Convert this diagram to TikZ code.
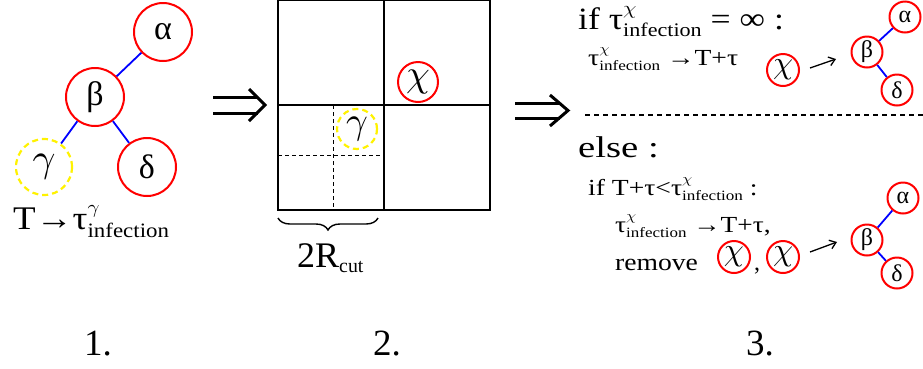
\documentclass[tikz,border=0pt]{standalone}
\usepackage{fontspec}
\setmainfont{Liberation Serif}
\usetikzlibrary{arrows.meta,decorations.pathreplacing}
\newcommand\tinf[1]{τ\rlap{\raisebox{0.48em}{\scalebox{0.62}{#1}}}\raisebox{-0.25em}{\scalebox{0.62}{infection}}}
\newcommand\fs[1]{\fontsize{#1}{#1}\selectfont}
\newcommand\gk[2]{{\fs{10}\scalebox{#1}{$#2$}}}
\begin{document}
\begin{tikzpicture}[x=1pt,y=-1pt,
  bigc/.style={circle,draw=red,line width=2pt,inner sep=0pt,minimum size=58pt,font=\fs{34}},
  yelc/.style={circle,draw=yellow,line width=2.2pt,dash pattern=on 6pt off 4pt,inner sep=0pt,minimum size=#1},
  smc/.style={circle,draw=red,line width=2pt,inner sep=0pt,minimum size=#1},
  edge/.style={draw=blue,line width=1.8pt},
  grid/.style={line width=2.2pt},
  thin dash/.style={line width=1pt,dash pattern=on 4pt off 3pt},
  lbl/.style={inner sep=0pt,anchor=base west},
  dbl/.style={line width=3pt},
  sarrow/.style={line width=1.3pt,-{Straight Barb[length=6pt,width=9pt]}}]
\useasboundingbox (0,0) rectangle (923,368);

% ---- panel 1 ----
\node[bigc] (a1) at (163,32) {α};
\node[bigc] (b1) at (95,97) {β};
\node[yelc=56pt] (g1) at (44,167) {\gk{4.0}{\gamma}};
\node[bigc] (d1) at (147,167) {δ};
\draw[edge] (b1) -- (a1);
\draw[edge] (b1) -- (g1);
\draw[edge] (b1) -- (d1);
\node[lbl,font=\fs{33}] (t1) at (13,229) {\scalebox{1.12}[1]{T→\tinf{\gk{3.0}{\gamma}}}};
\node[lbl,font=\fs{37}] (n1) at (84,355) {1.};

% ---- arrow 1 ----
\draw[dbl] (213,97) -- (258,97) (213,113) -- (258,113);
\draw[dbl,line join=miter] (249,89) -- (265,105) -- (249,121);

% ---- panel 2 ----
\draw[grid] (278,0) rectangle (490,210);
\draw[grid] (384,0) -- (384,210) (278,105) -- (490,105);
\draw[thin dash] (333,105) -- (333,210) (278,155) -- (384,155);
\node[yelc=40pt] (g2) at (357,129) {\gk{3.8}{\gamma}};
\node[smc=40pt] (c2) at (418,82) {\gk{3.8}{\chi}};
\coordinate (br1) at (378,218);
\coordinate (br2) at (278,218);
\draw[line width=1.4pt,decorate,decoration={brace,amplitude=12pt}] (br1) -- (br2);
\node[lbl,font=\fs{36}] (r2) at (297,267) {2R\raisebox{-0.15em}{\scalebox{0.55}{cut}}};
\node[lbl,font=\fs{37}] (n2) at (373,355) {2.};

% ---- arrow 2 ----
\draw[dbl] (515,103) -- (560,103) (515,118) -- (560,118);
\draw[dbl,line join=miter] (550,95) -- (568,110.5) -- (550,126);

% ---- panel 3 ----
\node[lbl,font=\fs{31}] (l1) at (578,29) {\scalebox{1.15}[1]{if \tinf{\gk{3.0}{\chi}} = ∞ :}};
\node[lbl,font=\fs{23}] (l2) at (588,65) {\scalebox{1.2}[1]{\tinf{\gk{2.2}{\chi}} →T+τ}};
\node[smc=32pt] (c3) at (783,70) {\gk{3.2}{\chi}};
\coordinate (ar1s) at (810,68);
\coordinate (ar1e) at (836,59);
\draw[sarrow] (ar1s) -- (ar1e);
\node[smc=31pt,font=\fs{24}] (a3) at (905,17) {α};
\node[smc=31pt,font=\fs{24}] (b3) at (867,52) {β};
\node[smc=31pt,font=\fs{24}] (d3) at (897,90) {δ};
\draw[edge] (b3) -- (a3);
\draw[edge] (b3) -- (d3);

\coordinate (dl1) at (585,115);
\coordinate (dl2) at (923,115);
\draw[line width=2pt,dash pattern=on 5pt off 4pt] (dl1) -- (dl2);

\node[lbl,font=\fs{30}] (l3) at (578,157) {\scalebox{1.29}[1]{else :}};
\node[lbl,font=\fs{23}] (l4) at (588,195) {\scalebox{1.2}[1]{if T+τ<\tinf{\gk{2.2}{\chi}} :}};
\node[lbl,font=\fs{23}] (l5) at (615,232) {\scalebox{1.19}[1]{\tinf{\gk{2.2}{\chi}} →T+τ,}};
\node[lbl,font=\fs{24}] (l6) at (615,270) {\scalebox{1.15}[1]{remove}};
\node[smc=32pt] (c4) at (734,257) {\gk{3.2}{\chi}};
\node[lbl,font=\fs{24}] (cm) at (754,270) {,};
\node[smc=32pt] (c5) at (783,257) {\gk{3.2}{\chi}};
\coordinate (ar2s) at (810,252);
\coordinate (ar2e) at (837,242);
\draw[sarrow] (ar2s) -- (ar2e);
\node[smc=31pt,font=\fs{24}] (a4) at (903,198) {α};
\node[smc=31pt,font=\fs{24}] (b4) at (867,240) {β};
\node[smc=31pt,font=\fs{24}] (d4) at (897,273) {δ};
\draw[edge] (b4) -- (a4);
\draw[edge] (b4) -- (d4);
\node[lbl,font=\fs{37}] (n3) at (746,355) {3.};
\end{tikzpicture}
\end{document}
